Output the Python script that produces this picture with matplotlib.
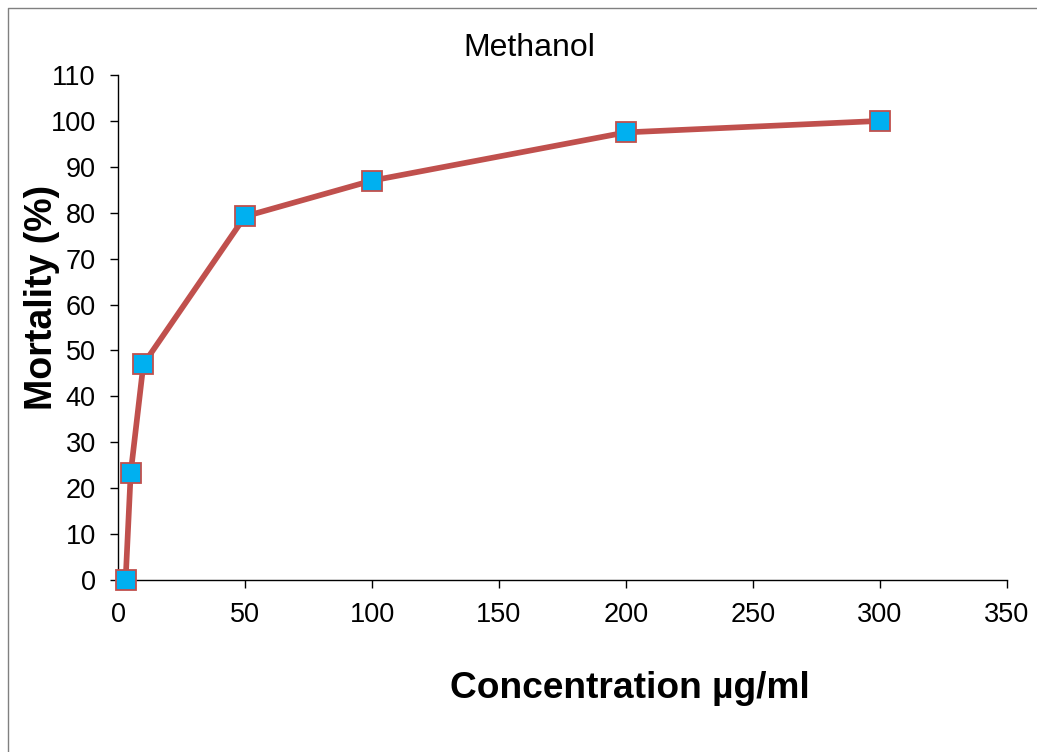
import matplotlib.pyplot as plt
from matplotlib.lines import Line2D

# data
concentration = [3, 5, 10, 50, 100, 200, 300]
mortality = [0, 23.3, 47, 79.2, 87, 97.5, 100]

plt.rcParams['font.family'] = ['Liberation Sans', 'DejaVu Sans']

fig = plt.figure(figsize=(10.37, 7.52), dpi=100)
ax = fig.add_axes([118 / 1037, 1 - 580 / 752, 889 / 1037, 505 / 752])

ax.plot(concentration, mortality, color='#C0504D', linewidth=4.1,
        marker='s', markersize=13.8, markerfacecolor='#00B0F0',
        markeredgecolor='#C0504D', markeredgewidth=1.3, clip_on=False, zorder=3)

ax.set_xlim(0, 350)
ax.set_ylim(0, 110)
ax.set_xticks(range(0, 351, 50))
ax.set_yticks(range(0, 111, 10))
ax.tick_params(axis='both', labelsize=19.5, length=6, width=1, direction='out', pad=10)

for side in ['top', 'right']:
    ax.spines[side].set_visible(False)
for side in ['left', 'bottom']:
    ax.spines[side].set_linewidth(1)
    ax.spines[side].set_color('black')

fig.text(529 / 1037, 1 - 48 / 752, 'Methanol', ha='center', va='center', fontsize=23)
fig.text(630 / 1037, 1 - 688 / 752, 'Concentration µg/ml', ha='center', va='center',
         fontsize=26.7, fontweight='bold')
fig.text(42 / 1037, 1 - 297 / 752, 'Mortality (%)', ha='center', va='center',
         fontsize=27, fontweight='bold', rotation=90)

# chart area border (left and top visible)
fig.add_artist(Line2D([8 / 1037, 8 / 1037, 1.0], [0.0, 1 - 8 / 752, 1 - 8 / 752],
                      transform=fig.transFigure, color='#808080', linewidth=1))

fig.savefig('out.png', dpi=100)
